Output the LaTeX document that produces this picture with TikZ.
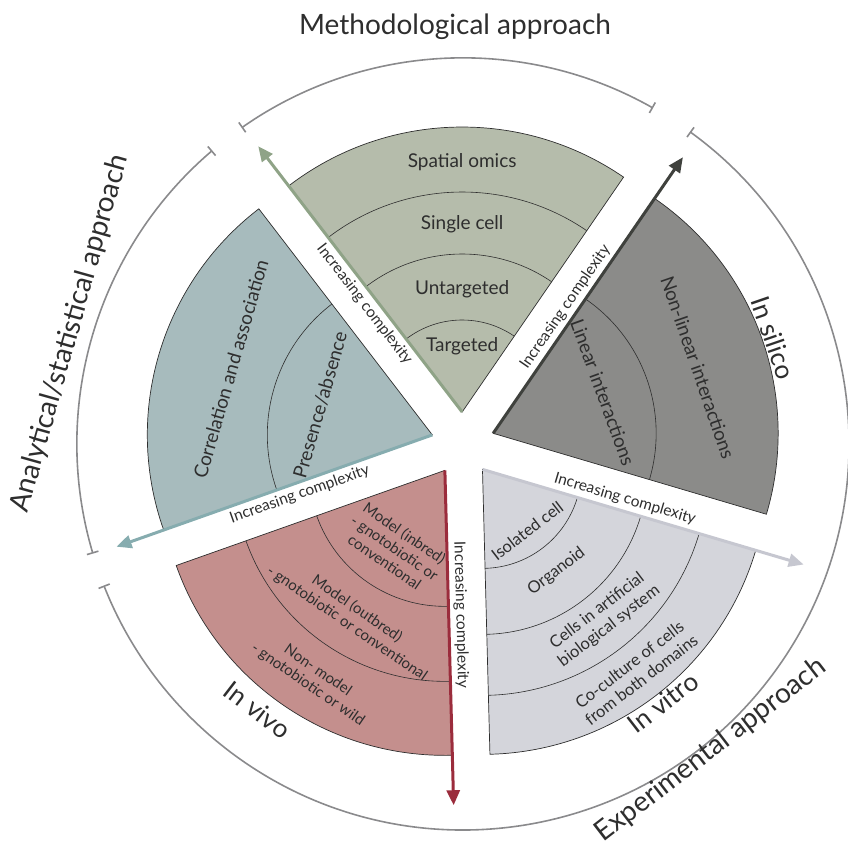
\documentclass[tikz,border=0pt]{standalone}
\usepackage{fontspec}
\setmainfont{Lato}
\usetikzlibrary{arrows.meta,calc,positioning}

\definecolor{sage}{HTML}{B5BCAB}
\definecolor{sagedark}{HTML}{8FA387}
\definecolor{slate}{HTML}{8B8B89}
\definecolor{slatedark}{HTML}{3F413D}
\definecolor{mist}{HTML}{D4D5DB}
\definecolor{mistdark}{HTML}{C6C7D0}
\definecolor{rose}{HTML}{C48F8D}
\definecolor{rosedark}{HTML}{9B2C3C}
\definecolor{steel}{HTML}{A7BBBD}
\definecolor{steeldark}{HTML}{86ACAF}
\definecolor{ring}{HTML}{8A8A8C}
\definecolor{ink}{HTML}{2E2E2E}

\tikzset{
  wedge/.style={draw=ink, line width=0.7pt},
  band/.style={draw=ink, line width=0.6pt},
  cplx/.style={line width=3pt, -{Triangle[length=15pt,width=13pt]}},
  cplxtext/.style={font=\fontsize{15.5}{17}\selectfont, text=ink, inner sep=0pt},
  seclabel/.style={font=\fontsize{19}{21}\selectfont, text=ink, align=center},
  smalllabel/.style={font=\fontsize{15}{17.5}\selectfont, text=ink, align=center, inner sep=1pt},
  vitlabel/.style={font=\fontsize{16.5}{19.5}\selectfont, text=ink, align=center, inner sep=1pt},
  outlabel/.style={font=\fontsize{26}{28}\selectfont, text=ink},
  bigname/.style={font=\fontsize{28}{30}\selectfont, text=ink},
  approach/.style={draw=ring, line width=1.6pt, {Bar[width=12pt]}-{Bar[width=12pt]}},
}

\begin{document}
\begin{tikzpicture}[x=1pt, y=1pt]
\useasboundingbox (-463,-407) rectangle (384,444);

% outer arcs
\draw[approach] (60.5:386) arc[start angle=60.5, end angle=125, radius=386];
\draw[approach] (130.5:386) arc[start angle=130.5, end angle=196.5, radius=386];
\draw[approach] (54:386) arc[start angle=54, end angle=-158.5, radius=386];

% wedges
\foreach \nm/\bis/\fc in {met/91.5/sage, sil/19.5/slate, vit/-52.5/mist, viv/-124.5/rose, ana/163.5/steel}{
  \coordinate (\nm-apex) at (\bis:32);
  \coordinate (\nm-tip) at ($(\nm-apex)+(\bis+36:335)$);
  \filldraw[wedge, fill=\fc] (\nm-apex) -- ++(\bis-36:285) arc[start angle=\bis-36, end angle=\bis+36, radius=285] -- cycle;
}
\foreach \nm/\bis/\rad in {met/91.5/92, met/91.5/158, met/91.5/220, sil/19.5/163, vit/-52.5/99, vit/-52.5/165, vit/-52.5/226, viv/-124.5/136, viv/-124.5/211, ana/163.5/165}
  \draw[band] (\nm-apex) ++(\bis-36:\rad) arc[start angle=\bis-36, end angle=\bis+36, radius=\rad];

% complexity arrows
\foreach \nm/\ac in {met/sagedark, sil/slatedark, vit/mistdark, viv/rosedark, ana/steeldark}
  \draw[cplx, \ac] (\nm-apex) -- (\nm-tip);
\foreach \nm/\bis/\rot in {met/91.5/-52.5, sil/19.5/55.5, vit/-52.5/-16.5, viv/-124.5/-88.5, ana/163.5/19.5}
  \node[cplxtext, rotate=\rot] (\nm-cplx) at ($(\nm-apex)+(\bis+36:145)+(\bis+126:12)$) {Increasing complexity};

% methodological
\node[seclabel] (spatial) at ($(met-apex)+(90:250)$) {Spatial omics};
\node[seclabel] (single) at ($(met-apex)+(90:188)$) {Single cell};
\node[seclabel] (untarg) at ($(met-apex)+(90:123)$) {Untargeted};
\node[seclabel] (targ) at ($(met-apex)+(90:66)$) {Targeted};
% in silico
\node[seclabel, rotate=-70] (linear) at ($(sil-apex)+(20.4:117)$) {Linear interactions};
\node[seclabel, rotate=-71] (nonlinear) at ($(sil-apex)+(17.8:215)$) {Non-linear interactions};
% analytical
\node[seclabel, rotate=74] (corr) at ($(ana-apex)+(161.9:212)$) {Correlation and association};
\node[seclabel, rotate=74] (presence) at ($(ana-apex)+(165:116)$) {Presence/absence};
% in vivo
\node[smalllabel, rotate=-34.5] (inbred) at ($(viv-apex)+(-123:92)$) {Model (inbred)\\- gnotobiotic or\\conventional};
\node[smalllabel, rotate=-34.5] (outbred) at ($(viv-apex)+(-122.5:173)$) {Model (outbred)\\- gnotobiotic or conventional};
\node[smalllabel, rotate=-34.5] (nonmodel) at ($(viv-apex)+(-122.5:246)$) {Non- model\\- gnotobiotic or wild};
% in vitro
\node[vitlabel, rotate=37.5] (isolated) at ($(vit-apex)+(-54:76)$) {Isolated cell};
\node[vitlabel, rotate=37.5] (organoid) at ($(vit-apex)+(-54:126)$) {Organoid};
\node[vitlabel, rotate=37.5] (artificial) at ($(vit-apex)+(-51:192)$) {Cells in artificial\\biological system};
\node[vitlabel, rotate=37.5] (coculture) at ($(vit-apex)+(-53:254)$) {Co-culture of cells\\from both domains};

% outer names
\node[outlabel, rotate=-71] (silico) at (18.9:328) {In silico};
\node[outlabel, rotate=37.7] (vitro) at (-52.3:327) {In vitro};
\node[outlabel, rotate=-37.6] (vivo) at (-127.7:336) {In vivo};
\node[bigname] (methodo) at (-8,417) {Methodological approach};
\node[bigname, rotate=74.3] (analytic) at (164.3:408) {Analytical/statistical approach};
\node[bigname, rotate=37.6] (experim) at (-51:394) {Experimental approach};
\end{tikzpicture}
\end{document}
